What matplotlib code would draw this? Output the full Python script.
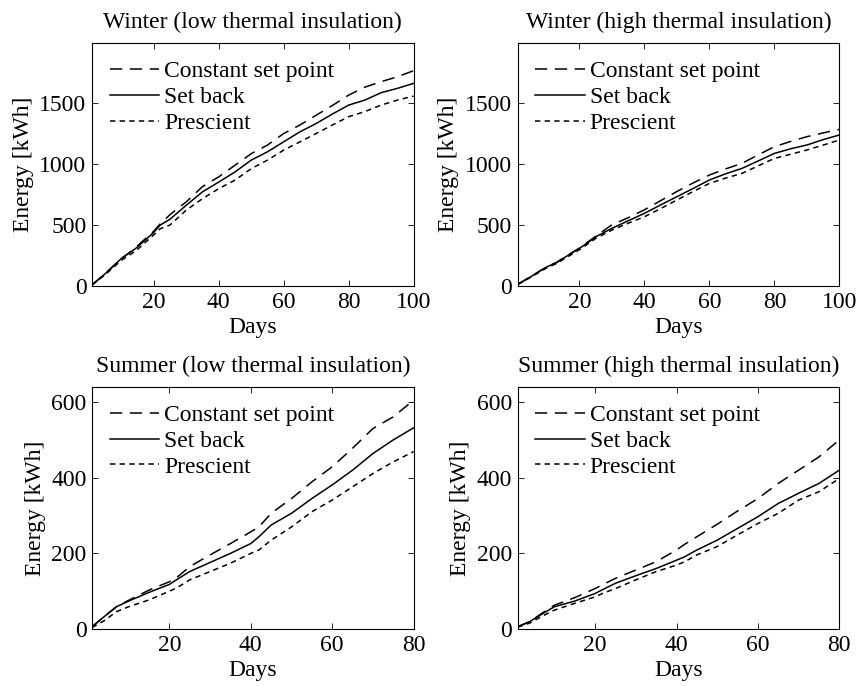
import matplotlib
matplotlib.use("Agg")
import matplotlib.pyplot as plt

plt.rcParams["font.family"] = ["Liberation Serif", "DejaVu Serif"]
plt.rcParams["font.size"] = 17

# Winter days (sampled)
winter_days = [1, 5, 10, 13, 15, 20, 22, 25, 30, 35, 40, 45, 50, 55, 60, 65, 70, 75, 80, 85, 90, 95, 100]

# Winter, low thermal insulation
wl_const = [10, 100, 225, 285, 330, 450, 510, 585, 690, 815, 895, 990, 1085, 1155, 1250, 1320, 1400, 1480, 1565, 1630, 1675, 1715, 1765]
wl_back = [10, 100, 225, 280, 320, 440, 500, 548, 662, 772, 852, 935, 1032, 1100, 1182, 1264, 1332, 1410, 1483, 1524, 1585, 1620, 1661]
wl_presc = [8, 92, 210, 262, 300, 420, 470, 500, 622, 716, 798, 868, 962, 1032, 1114, 1182, 1250, 1320, 1388, 1430, 1483, 1524, 1557]

# Winter, high thermal insulation
wh_const = [14, 78, 160, 195, 230, 312, 350, 408, 502, 560, 625, 700, 775, 845, 910, 960, 1005, 1075, 1142, 1185, 1224, 1255, 1284]
wh_back = [14, 76, 158, 192, 227, 309, 345, 404, 473, 535, 596, 665, 732, 800, 869, 920, 964, 1025, 1087, 1125, 1156, 1200, 1238]
wh_presc = [12, 72, 150, 185, 218, 298, 335, 390, 459, 515, 568, 635, 705, 775, 841, 885, 923, 985, 1046, 1080, 1115, 1155, 1197]

# Summer days (sampled)
summer_days = [1, 4, 7, 10, 15, 20, 22, 25, 30, 35, 40, 42, 45, 50, 55, 60, 65, 70, 75, 80]

# Summer, low thermal insulation
sl_const = [6, 33, 59, 76, 103, 125, 138, 165, 196, 226, 257, 270, 306, 345, 389, 429, 478, 530, 561, 605]
sl_back = [6, 33, 59, 74, 97, 118, 132, 152, 176, 200, 226, 244, 275, 306, 345, 381, 420, 464, 500, 532]
sl_presc = [4, 22, 46, 59, 77, 100, 110, 130, 152, 174, 200, 209, 235, 270, 310, 341, 376, 411, 442, 469]

# Summer, high thermal insulation
sh_const = [6, 20, 42, 63, 83, 107, 118, 134, 156, 178, 209, 224, 244, 277, 312, 345, 385, 420, 455, 500]
sh_back = [6, 20, 40, 59, 74, 94, 105, 121, 141, 160, 182, 191, 209, 235, 266, 297, 332, 359, 385, 420]
sh_presc = [5, 16, 34, 50, 68, 85, 95, 107, 130, 152, 169, 178, 196, 218, 249, 279, 306, 341, 363, 398]

labels = ["Constant set point", "Set back", "Prescient"]

panels = [
    ("Winter (low thermal insulation)", winter_days, [wl_const, wl_back, wl_presc], 100, 1990, [0, 500, 1000, 1500], [20, 40, 60, 80, 100]),
    ("Winter (high thermal insulation)", winter_days, [wh_const, wh_back, wh_presc], 100, 1990, [0, 500, 1000, 1500], [20, 40, 60, 80, 100]),
    ("Summer (low thermal insulation)", summer_days, [sl_const, sl_back, sl_presc], 80, 640, [0, 200, 400, 600], [20, 40, 60, 80]),
    ("Summer (high thermal insulation)", summer_days, [sh_const, sh_back, sh_presc], 80, 640, [0, 200, 400, 600], [20, 40, 60, 80]),
]

positions = [
    [0.107, 0.583, 0.374, 0.354],
    [0.602, 0.583, 0.374, 0.354],
    [0.107, 0.083, 0.374, 0.353],
    [0.602, 0.083, 0.374, 0.353],
]

styles = [
    dict(linestyle=(0, (8, 5))),
    dict(linestyle="-"),
    dict(linestyle=(0, (3.5, 2.8))),
]

fig = plt.figure(figsize=(8.6, 6.86), dpi=100)

for (title, days, series, xmax, ymax, yticks, xticks), pos in zip(panels, positions):
    ax = fig.add_axes(pos)
    for vals, st, lab in zip(series, styles, labels):
        ax.plot(days, vals, color="black", linewidth=1.1, label=lab, **st)
    ax.set_xlim(1, xmax)
    ax.set_ylim(0, ymax)
    ax.set_xticks(xticks)
    ax.set_yticks(yticks)
    ax.tick_params(direction="in", top=True, right=True, length=4, width=0.6, pad=4)
    for sp in ax.spines.values():
        sp.set_linewidth(0.8)
    ax.set_title(title, fontsize=17, pad=11)
    ax.set_xlabel("Days", labelpad=3)
    ax.set_ylabel("Energy [kWh]", labelpad=4)
    ax.legend(loc="upper left", frameon=False, handlelength=2.1, handletextpad=0.2,
              labelspacing=0.18, borderaxespad=0.35, fontsize=17)

fig.savefig("out.png", dpi=100)
